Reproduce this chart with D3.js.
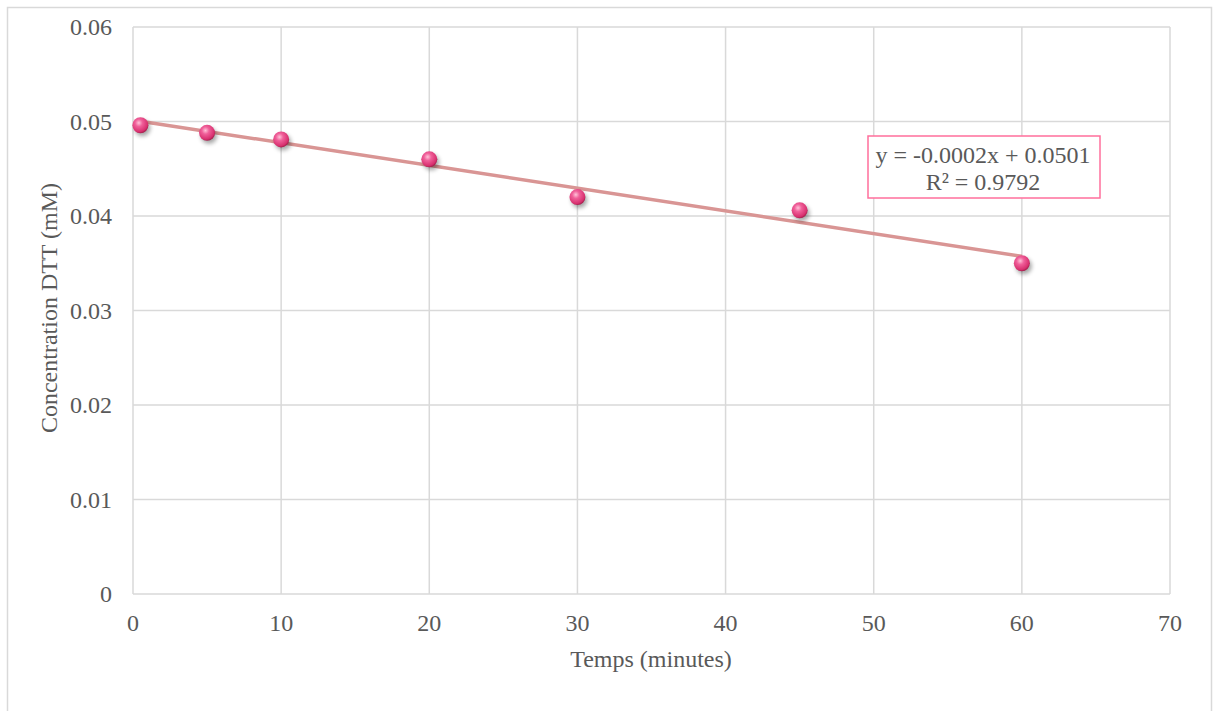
<!DOCTYPE html>
<html><head><meta charset="utf-8">
<script src="https://cdn.jsdelivr.net/npm/d3@7"></script>
<style>body{margin:0;background:#fff}svg{display:block}</style>
</head><body>
<svg id="c" width="1213" height="711"></svg>
<script>
const timesMin = [0.5, 5, 10, 20, 30, 45, 60];
const concDTT = [0.0496, 0.0488, 0.0481, 0.0460, 0.0420, 0.0406, 0.0350];
const xTicks = [0, 10, 20, 30, 40, 50, 60, 70];
const yTicks = [0, 0.01, 0.02, 0.03, 0.04, 0.05, 0.06];
const yTickLabels = ["0", "0.01", "0.02", "0.03", "0.04", "0.05", "0.06"];
const equationLines = ["y = -0.0002x + 0.0501", "R² = 0.9792"];
const xTitle = "Temps (minutes)";
const yTitle = "Concentration DTT (mM)";

const svg = d3.select("#c");
const font = "'Liberation Serif','Times New Roman',serif";
const x = d3.scaleLinear().domain([0, 70]).range([133, 1170]);
const y = d3.scaleLinear().domain([0, 0.06]).range([594, 27]);

// outer border
svg.append("rect").attr("x", 7.5).attr("y", 7.5).attr("width", 1204).attr("height", 710)
  .attr("fill", "none").attr("stroke", "#d9d9d9").attr("stroke-width", 1.5);

const defs = svg.append("defs");
const rg = defs.append("radialGradient").attr("id", "ball").attr("cx", "40%").attr("cy", "35%").attr("r", "65%");
rg.append("stop").attr("offset", "0%").attr("stop-color", "#ffc2d8");
rg.append("stop").attr("offset", "35%").attr("stop-color", "#f0609a");
rg.append("stop").attr("offset", "85%").attr("stop-color", "#d8306f");
rg.append("stop").attr("offset", "100%").attr("stop-color", "#a8204f");
const f = defs.append("filter").attr("id", "sh").attr("x", "-50%").attr("y", "-50%").attr("width", "200%").attr("height", "200%");
f.append("feGaussianBlur").attr("stdDeviation", 2);

// gridlines
const g = svg.append("g");
g.selectAll(".vx").data(xTicks).join("line")
  .attr("x1", d => x(d)).attr("x2", d => x(d)).attr("y1", y(0.06)).attr("y2", y(0))
  .attr("stroke", "#d9d9d9").attr("stroke-width", 1.5);
g.selectAll(".hy").data(yTicks).join("line")
  .attr("x1", x(0)).attr("x2", x(70)).attr("y1", d => y(d)).attr("y2", d => y(d))
  .attr("stroke", "#d9d9d9").attr("stroke-width", 1.5);

// tick labels
svg.selectAll(".yl").data(yTicks).join("text")
  .attr("x", 112).attr("y", d => y(d)).attr("dy", "0.35em").attr("text-anchor", "end")
  .attr("font-family", font).attr("font-size", 24).attr("fill", "#595959")
  .text((d, i) => yTickLabels[i]);
svg.selectAll(".xl").data(xTicks).join("text")
  .attr("x", d => x(d)).attr("y", 631).attr("text-anchor", "middle")
  .attr("font-family", font).attr("font-size", 24).attr("fill", "#595959")
  .text(d => d);

// axis titles
svg.append("text").attr("x", 651).attr("y", 667).attr("text-anchor", "middle")
  .attr("font-family", font).attr("font-size", 24).attr("fill", "#595959").text(xTitle);
svg.append("text").attr("transform", "translate(57,308) rotate(-90)").attr("text-anchor", "middle")
  .attr("font-family", font).attr("font-size", 24).attr("fill", "#595959").text(yTitle);

// linear regression trendline
const n = timesMin.length;
const mx = d3.mean(timesMin), my = d3.mean(concDTT);
let sxy = 0, sxx = 0;
for (let i = 0; i < n; i++) { sxy += (timesMin[i] - mx) * (concDTT[i] - my); sxx += (timesMin[i] - mx) ** 2; }
const slope = sxy / sxx, icpt = my - slope * mx;
const x0 = d3.min(timesMin), x1 = d3.max(timesMin);
svg.append("line").attr("x1", x(x0)).attr("y1", y(icpt + slope * x0))
  .attr("x2", x(x1)).attr("y2", y(icpt + slope * x1))
  .attr("stroke", "#d99594").attr("stroke-width", 3.5);

// markers
const pts = timesMin.map((t, i) => [t, concDTT[i]]);
svg.selectAll(".sh").data(pts).join("circle")
  .attr("cx", d => x(d[0]) + 2).attr("cy", d => y(d[1]) + 3).attr("r", 8)
  .attr("fill", "#000").attr("opacity", 0.35).attr("filter", "url(#sh)");
svg.selectAll(".pt").data(pts).join("circle")
  .attr("cx", d => x(d[0])).attr("cy", d => y(d[1])).attr("r", 8)
  .attr("fill", "url(#ball)");

// equation box
svg.append("rect").attr("x", 868).attr("y", 136).attr("width", 232).attr("height", 62)
  .attr("fill", "#fff").attr("stroke", "#ff6f9c").attr("stroke-width", 1.5);
svg.selectAll(".eq").data(equationLines).join("text")
  .attr("x", 983).attr("y", (d, i) => 163 + i * 27).attr("text-anchor", "middle")
  .attr("font-family", font).attr("font-size", 24).attr("fill", "#595959").text(d => d);
</script>
</body></html>
